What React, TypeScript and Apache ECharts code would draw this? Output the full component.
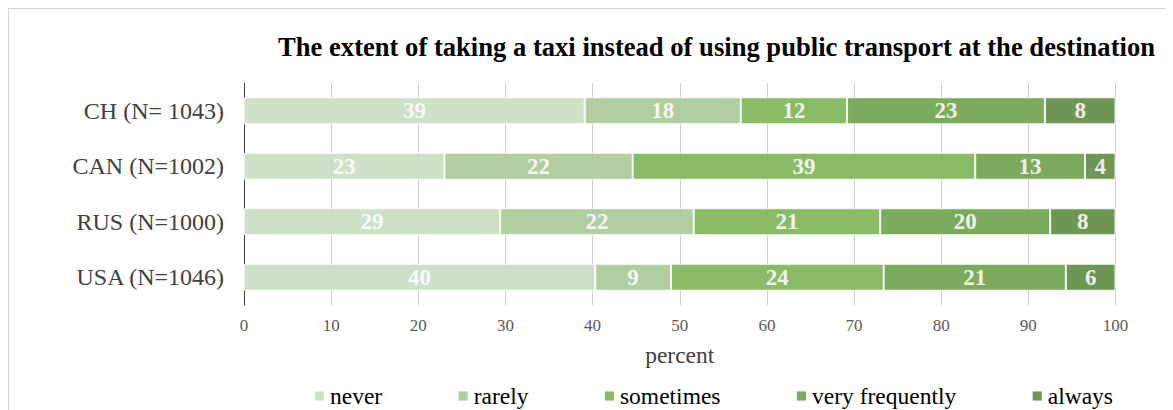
import React, { useEffect, useRef } from "react";
import * as echarts from "echarts";

const categories = ["CH (N= 1043)", "CAN (N=1002)", "RUS (N=1000)", "USA (N=1046)"];
const seriesNames = ["never", "rarely", "sometimes", "very frequently", "always"];
const never = [39.1, 23.0, 29.4, 40.3];
const rarely = [17.9, 21.6, 22.2, 8.7];
const sometimes = [12.2, 39.3, 21.4, 24.4];
const veryFrequently = [22.7, 12.6, 19.5, 20.9];
const always = [8.1, 3.5, 7.5, 5.7];
const seriesColors = ["#c9ddc2", "#a8c997", "#7db556", "#6fa24d", "#5f8b42"];
const titleText = "The extent of taking a taxi instead of using public transport at the destination";
const axisName = "percent";

const FONT = '"Liberation Serif", "Times New Roman", serif';

export default function App() {
  const ref = useRef<HTMLDivElement>(null);
  useEffect(() => {
    if (!ref.current) return;
    const chart = echarts.init(ref.current, null, { renderer: "svg" });
    const values = [never, rarely, sometimes, veryFrequently, always];
    chart.setOption({
      animation: false,
      textStyle: { fontFamily: FONT },
      graphic: [
        {
          type: "text",
          x: 707.5,
          y: 38,
          style: {
            text: titleText,
            font: `bold 26.6px ${FONT}`,
            fill: "#000",
            textAlign: "center",
            textVerticalAlign: "middle",
          },
        },
      ],
      legend: {
        data: seriesNames,
        left: 304,
        top: 375,
        padding: 0,
        itemWidth: 11,
        itemHeight: 11,
        itemGap: 74.5,
        icon: "rect",
        textStyle: { fontFamily: FONT, fontSize: 23.5, color: "#000" },
      },
      grid: { left: 235, right: 57.5, top: 74, bottom: 105, containLabel: false },
      xAxis: {
        type: "value",
        min: 0,
        max: 100,
        interval: 10,
        name: axisName,
        nameLocation: "middle",
        nameGap: 38,
        nameTextStyle: { fontFamily: FONT, fontSize: 23.5, color: "#404040" },
        axisLine: { show: false },
        axisTick: { show: false },
        axisLabel: { fontFamily: FONT, fontSize: 17, color: "#595959", margin: 12 },
        splitLine: { show: true, lineStyle: { color: "#cfcfcf", width: 1 } },
      },
      yAxis: {
        type: "category",
        data: categories,
        inverse: true,
        axisLine: { show: true, lineStyle: { color: "#404040", width: 1 } },
        axisTick: { show: false },
        axisLabel: { fontFamily: FONT, fontSize: 24, color: "#404040", margin: 20 },
      },
      series: seriesNames.map((name, i) => ({
        name,
        type: "bar",
        stack: "total",
        barWidth: 27,
        data: values[i],
        itemStyle: {
          color: seriesColors[i],
          opacity: 0.9,
          borderColor: "#ffffff",
          borderWidth: 1,
        },
        label: {
          show: true,
          position: "inside",
          color: "#ffffff",
          fontFamily: FONT,
          fontWeight: "bold",
          fontSize: 23,
          formatter: (p: any) => String(Math.round(p.value)),
        },
      })),
    });
    return () => chart.dispose();
  }, []);
  return (
    <div style={{ borderTop: "1px solid #d6d6d6", borderLeft: "1px solid #d6d6d6", width: 1164, height: 401 }}>
      <div ref={ref} style={{ width: 1164, height: 401 }} />
    </div>
  );
}
